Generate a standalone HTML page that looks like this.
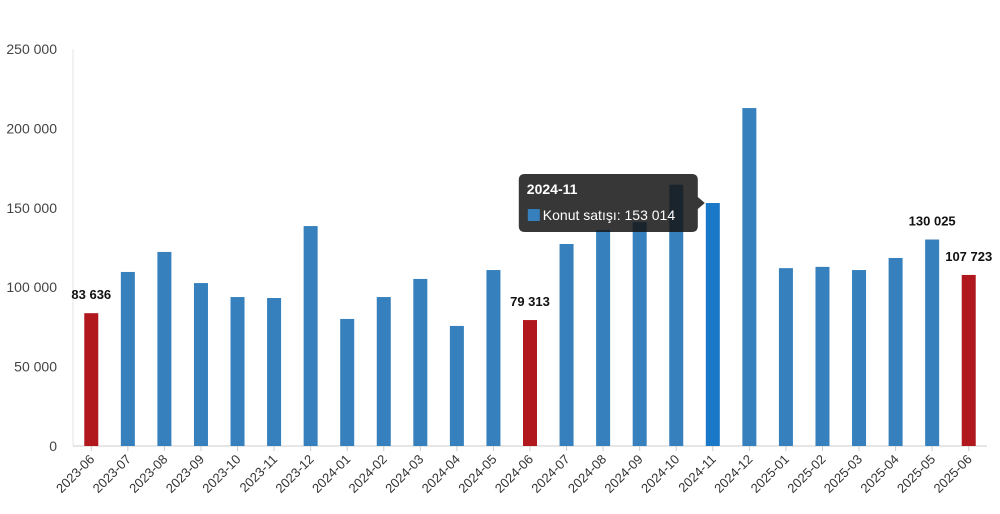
<!DOCTYPE html>
<html><head><meta charset="utf-8"><style>
body{margin:0;background:#fff;font-family:"Liberation Sans",sans-serif}
svg{display:block}
</style></head><body>
<svg id="chart" width="1000" height="514"></svg>
<script>
const categories=["2023-06","2023-07","2023-08","2023-09","2023-10","2023-11","2023-12","2024-01","2024-02","2024-03","2024-04","2024-05","2024-06","2024-07","2024-08","2024-09","2024-10","2024-11","2024-12","2025-01","2025-02","2025-03","2025-04","2025-05","2025-06"];
const values=[83636,109600,122200,102600,93800,93200,138500,80000,93800,105200,75600,110800,79313,127200,136000,141000,164500,153014,212800,112000,112800,110800,118400,130025,107723];
const yTicks=[0,50000,100000,150000,200000,250000];
const redIdx=[0,12,24];
const labeledIdx=[0,12,23,24];
const hoverIdx=17;
const NS="http://www.w3.org/2000/svg";
const svg=document.getElementById('chart');
const x0=73,x1=987,yBase=446,yTop=49,yMax=250000;
const band=(x1-x0)/categories.length;
const xC=i=>x0+band*(i+0.5);
const yS=v=>yBase-(v/yMax)*(yBase-yTop);
const fmt=v=>String(v).replace(/\B(?=(\d{3})+(?!\d))/g," ");
function mk(t,a,txt){const e=document.createElementNS(NS,t);for(const k in a)e.setAttribute(k,a[k]);if(txt!==undefined)e.textContent=txt;svg.appendChild(e);return e;}
const ax=mk('line',{x1:x0,y1:yTop,x2:x0,y2:yBase,stroke:'#e6e6e6'});

yTicks.forEach(v=>{const t=mk('text',{x:57,y:yS(v)+5,'text-anchor':'end','font-size':14,fill:'#444'},fmt(v));
});
const xl=mk('line',{x1:x0,y1:yBase,x2:x1,y2:yBase,stroke:'#ccc'});

categories.forEach((c,i)=>{
 const cx=xC(i),y=yS(values[i]);
 const fill=redIdx.includes(i)?'#b0181d':(i===hoverIdx?'#1a78c8':'#3580bd');
 const r=mk('rect',{x:cx-7,y:y,width:14,height:yBase-y,fill:fill});
 
 const tk=mk('line',{x1:cx,y1:yBase,x2:cx,y2:yBase+5,stroke:'#ccc'});
 
 const lb=mk('text',{x:cx+4,y:yBase+14,'text-anchor':'end','font-size':13,fill:'#333',transform:`rotate(-45 ${cx+4} ${yBase+14})`},c);
 
 if(labeledIdx.includes(i)){const v=mk('text',{x:cx,y:y-14,'text-anchor':'middle','font-size':13,'font-weight':'bold',fill:'#111'},fmt(values[i]));
 }
});
// tooltip
const hx=xC(hoverIdx)-7,hy=yS(values[hoverIdx]);
const g=document.createElementNS(NS,'g');svg.appendChild(g);

const tw=179,th=58,tx=hx-8-tw,ty=hy-29;
const p=document.createElementNS(NS,'path');
p.setAttribute('d',`M${tx+6},${ty} h${tw-12} q6,0 6,6 v${th/2-12} l7,6 l-7,6 v${th/2-12} q0,6 -6,6 h-${tw-12} q-6,0 -6,-6 v-${th-12} q0,-6 6,-6z`);
p.setAttribute('fill','rgba(20,20,20,0.85)');g.appendChild(p);

const t1=document.createElementNS(NS,'text');t1.setAttribute('x',tx+8);t1.setAttribute('y',ty+20);t1.setAttribute('fill','#fff');t1.setAttribute('font-size',14);t1.setAttribute('font-weight','bold');t1.textContent=categories[hoverIdx];g.appendChild(t1);

const sq=document.createElementNS(NS,'rect');sq.setAttribute('x',tx+9);sq.setAttribute('y',ty+35);sq.setAttribute('width',12);sq.setAttribute('height',12);sq.setAttribute('fill','#3580bd');g.appendChild(sq);

const t2=document.createElementNS(NS,'text');t2.setAttribute('x',tx+24);t2.setAttribute('y',ty+46);t2.setAttribute('fill','#fff');t2.setAttribute('font-size',14);t2.textContent='Konut satışı: '+fmt(values[hoverIdx]);g.appendChild(t2);

</script>
</body></html>
